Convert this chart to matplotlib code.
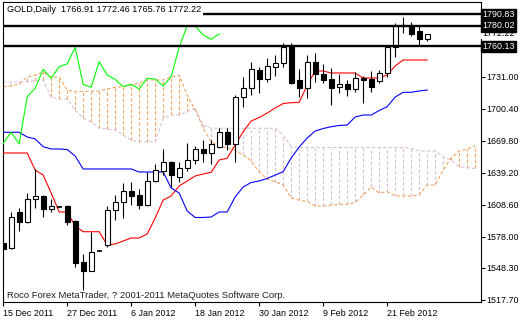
import numpy as np
import matplotlib.pyplot as plt

# OHLC for the visible daily bars
opens = [1572.2, 1567.0, 1601.6, 1592.3, 1614.0, 1617.2, 1604.4, 1607.1, 1607.6, 1593.2,
         1553.8, 1545.7, 1565.0, 1570.3, 1603.8, 1611.7, 1622.4, 1618.1, 1608.5, 1631.8,
         1641.5, 1649.7, 1635.0, 1643.6, 1651.1, 1662.1, 1658.0, 1664.3, 1678.1, 1666.6,
         1711.5, 1720.1, 1737.6, 1728.7, 1740.8, 1744.0, 1760.9, 1727.8, 1720.1, 1745.6,
         1733.5, 1728.7, 1721.7, 1724.1, 1719.2, 1730.3, 1728.7, 1727.1, 1734.5, 1759.3,
         1779.4, 1780.2, 1775.2, 1766.91]
highs = [1594.2, 1601.9, 1605.7, 1619.7, 1642.7, 1618.1, 1614.0, 1607.6, 1608.5, 1594.2,
         1561.4, 1582.4, 1565.5, 1607.9, 1618.1, 1629.6, 1630.8, 1623.8, 1639.8, 1647.8,
         1661.8, 1650.9, 1650.0, 1668.1, 1665.3, 1670.7, 1670.7, 1682.5, 1681.9, 1713.7,
         1731.2, 1745.6, 1740.8, 1748.8, 1752.0, 1763.5, 1763.7, 1738.4, 1752.0, 1753.6,
         1743.4, 1740.0, 1733.8, 1728.4, 1736.0, 1732.1, 1736.7, 1737.6, 1759.9, 1782.3,
         1788.0, 1783.1, 1779.9, 1772.46]
lows = [1560.3, 1566.0, 1583.7, 1591.8, 1605.4, 1597.4, 1602.1, 1606.8, 1589.4, 1549.7,
        1527.3, 1545.0, 1564.6, 1568.1, 1594.2, 1596.1, 1608.1, 1604.7, 1607.9, 1630.3,
        1637.2, 1625.8, 1630.8, 1641.3, 1647.8, 1649.4, 1647.8, 1662.8, 1661.1, 1649.4,
        1702.5, 1713.7, 1715.9, 1726.5, 1731.9, 1740.8, 1724.3, 1711.8, 1710.6, 1726.2,
        1725.2, 1704.5, 1715.4, 1712.5, 1716.9, 1705.8, 1716.9, 1725.2, 1730.5, 1749.8,
        1772.7, 1770.0, 1761.3, 1765.76]
closes = [1566.8, 1597.4, 1592.0, 1614.0, 1617.2, 1604.4, 1607.6, 1607.1, 1592.6, 1552.8,
          1545.7, 1563.3, 1565.0, 1603.8, 1611.7, 1622.4, 1616.7, 1609.0, 1631.8, 1642.0,
          1649.7, 1637.7, 1643.6, 1651.6, 1661.8, 1658.0, 1666.6, 1678.1, 1666.6, 1711.5,
          1720.1, 1738.6, 1728.7, 1741.5, 1744.0, 1759.9, 1724.9, 1720.1, 1745.6, 1734.0,
          1728.1, 1720.5, 1724.1, 1719.2, 1729.7, 1728.1, 1721.7, 1734.5, 1759.3, 1779.9,
          1780.2, 1772.3, 1767.0, 1772.22]

# Ichimoku lines
tenkan = [1658.3, 1658.3, 1658.3, 1658.3, 1642.0, 1637.2, 1620.0, 1601.9, 1601.9, 1588.5,
          1583.0, 1583.0, 1583.0, 1570.3, 1571.3, 1574.1, 1577.0, 1577.0, 1580.8, 1596.1,
          1613.3, 1617.2, 1626.7, 1631.5, 1636.3, 1638.2, 1639.8, 1651.6, 1653.2, 1665.9,
          1678.6, 1688.9, 1692.2, 1696.5, 1701.3, 1705.6, 1706.4, 1706.6, 1723.3, 1736.7,
          1736.7, 1734.8, 1734.8, 1734.8, 1734.8, 1730.0, 1730.0, 1730.0, 1732.9, 1741.5,
          1747.2, 1747.2, 1747.2, 1747.2]
kijun = [1678.1, 1678.1, 1678.1, 1673.6, 1671.7, 1664.3, 1662.1, 1662.1, 1661.6, 1655.4,
         1643.0, 1643.0, 1643.0, 1643.0, 1643.0, 1643.0, 1643.0, 1640.1, 1640.1, 1640.1,
         1640.1, 1624.8, 1620.0, 1602.8, 1596.6, 1596.6, 1597.1, 1601.9, 1601.9, 1616.2,
         1625.8, 1630.1, 1631.5, 1633.9, 1637.2, 1640.4, 1653.5, 1664.0, 1672.6, 1679.3,
         1681.7, 1683.4, 1684.6, 1685.0, 1692.7, 1694.6, 1694.6, 1698.9, 1702.5, 1711.8,
         1716.3, 1716.3, 1717.6, 1718.5]
chikou = [1667.5, 1678.1, 1666.9, 1712.1, 1720.1, 1738.3, 1729.7, 1740.8, 1743.4, 1759.3,
          1724.0, 1721.1, 1745.6, 1732.9, 1728.7, 1721.7, 1724.0, 1719.5, 1729.7, 1729.0,
          1722.3, 1731.2, 1759.6, 1779.7, 1779.7, 1771.1, 1767.0, 1772.1]
span_a = [1721.7, 1722.3, 1724.3, 1730.9, 1732.9, 1735.7, 1730.7, 1730.7, 1718.5, 1716.9,
          1717.1, 1717.3, 1717.6, 1719.5, 1721.1, 1721.7, 1723.3, 1725.2, 1728.1, 1728.1,
          1728.1, 1730.9, 1732.9, 1713.7, 1699.4, 1682.2, 1668.8, 1665.0, 1663.1, 1661.1,
          1656.4, 1650.6, 1640.1, 1633.4, 1630.8, 1627.7, 1615.2, 1613.3, 1611.9, 1607.6,
          1607.6, 1608.5, 1609.2, 1609.2, 1611.1, 1618.1, 1625.8, 1620.0, 1621.3, 1617.2,
          1617.2, 1617.2, 1618.1, 1627.7, 1627.7, 1642.0, 1653.5, 1660.2, 1662.1, 1665.0]
span_b = [1726.2, 1726.2, 1726.2, 1726.6, 1727.1, 1728.1, 1711.8, 1709.9, 1709.6, 1699.4,
          1691.7, 1687.9, 1682.2, 1681.2, 1680.3, 1675.5, 1670.7, 1669.1, 1669.1, 1669.1,
          1691.5, 1694.6, 1694.6, 1697.8, 1701.0, 1685.0, 1681.9, 1681.9, 1681.9, 1681.9,
          1681.9, 1681.9, 1681.9, 1681.9, 1681.9, 1675.5, 1664.3, 1663.5, 1663.5, 1663.5,
          1663.5, 1663.5, 1663.5, 1663.5, 1663.5, 1663.5, 1663.5, 1663.5, 1663.5, 1663.5,
          1663.5, 1662.8, 1660.2, 1660.2, 1660.2, 1654.7, 1651.6, 1645.2, 1644.2, 1643.6]

levels = [1790.83, 1780.02, 1760.13]
bid = 1772.22
price_ticks = [1731.00, 1700.40, 1669.80, 1639.20, 1608.60, 1578.00, 1548.30, 1517.70]
date_labels = ['15 Dec 2011', '27 Dec 2011', '6 Jan 2012', '18 Jan 2012',
               '30 Jan 2012', '9 Feb 2012', '21 Feb 2012']
date_pos = [0, 8, 16, 24, 32, 40, 48]

plt.rcParams['font.family'] = ['Liberation Sans', 'DejaVu Sans']
fs = 6.4

fig = plt.figure(figsize=(5.2, 3.2), dpi=100)
ax = fig.add_axes([2.7 / 520, 18.3 / 320, 478.3 / 520, 300.2 / 320])
ax.set_xlim(-0.06, 59.73)
ax.set_ylim(1516.07, 1803.15)

dash = (0, (3, 2))
n_cloud = len(span_a)
xc = np.arange(n_cloud)
sa = np.array(span_a)
sb = np.array(span_b)

# cloud hatch
for i in range(n_cloud):
    col = '#F4A460' if sa[i] > sb[i] else '#D8BFD8'
    ax.vlines(i, min(sa[i], sb[i]), max(sa[i], sb[i]), colors=col,
              linestyles=dash, lw=0.8, zorder=1)
ax.plot(xc, sb, color='#D8BFD8', ls=dash, lw=0.8, zorder=2)
ax.plot(xc, sa, color='#F4A460', ls=dash, lw=0.8, zorder=2)

n = len(closes)
xb = np.arange(n)
ax.plot(xb, tenkan, color='red', lw=0.8, zorder=3)
ax.plot(xb, kijun, color='blue', lw=0.8, zorder=3)
ax.plot(np.arange(len(chikou)), chikou, color='#00FF00', lw=0.8, zorder=3)

# candles
for i in range(n):
    o, h, l, c = opens[i], highs[i], lows[i], closes[i]
    ax.vlines(i, l, h, colors='black', lw=0.8, zorder=4)
    up = c >= o
    lo, hi = min(o, c), max(o, c)
    if hi - lo < 0.6:
        ax.hlines((o + c) / 2, i - 0.3, i + 0.3, colors='black', lw=1.2, zorder=5)
    else:
        ax.bar(i, hi - lo, bottom=lo, width=0.6,
               facecolor='white' if up else 'black',
               edgecolor='black', lw=0.8, zorder=5)

for lv in levels:
    ax.axhline(lv, color='black', lw=1.7, zorder=6)

# axes look
for s in ax.spines.values():
    s.set_linewidth(0.8)
ax.yaxis.tick_right()
ax.set_yticks(price_ticks)
ax.set_yticklabels(['%.2f' % p for p in price_ticks], fontsize=fs)
ax.set_xticks(date_pos)
ax.set_xticklabels(date_labels, fontsize=fs, ha='left')
ax.tick_params(axis='both', direction='out', length=3, width=0.8, pad=1)
ax.tick_params(axis='x', pad=2)

# boxed price labels on the right scale
for lv in levels:
    ax.text(1.002, lv, '%.2f' % lv, transform=ax.get_yaxis_transform(),
            fontsize=fs, color='white', va='center', ha='left',
            bbox=dict(boxstyle='square,pad=0.15', fc='black', ec='black'), zorder=10,
            clip_on=False)
ax.text(1.002, bid, '%.2f' % bid, transform=ax.get_yaxis_transform(),
        fontsize=fs, color='black', va='center', ha='left',
        bbox=dict(boxstyle='square,pad=0.1', fc='white', ec='none'), zorder=9,
        clip_on=False)

ax.text(0.008, 0.972, 'GOLD,Daily  1766.91 1772.46 1765.76 1772.22', transform=ax.transAxes,
        fontsize=6.6, va='center', ha='left',
        bbox=dict(boxstyle='square,pad=0.25', fc='white', ec='none'), zorder=8)
ax.text(0.008, 0.022, 'Roco Forex MetaTrader, ? 2001-2011 MetaQuotes Software Corp.',
        transform=ax.transAxes, fontsize=6.8, va='center', ha='left', color='#202020', zorder=8)

fig.savefig('out.png', dpi=100, facecolor='white')
